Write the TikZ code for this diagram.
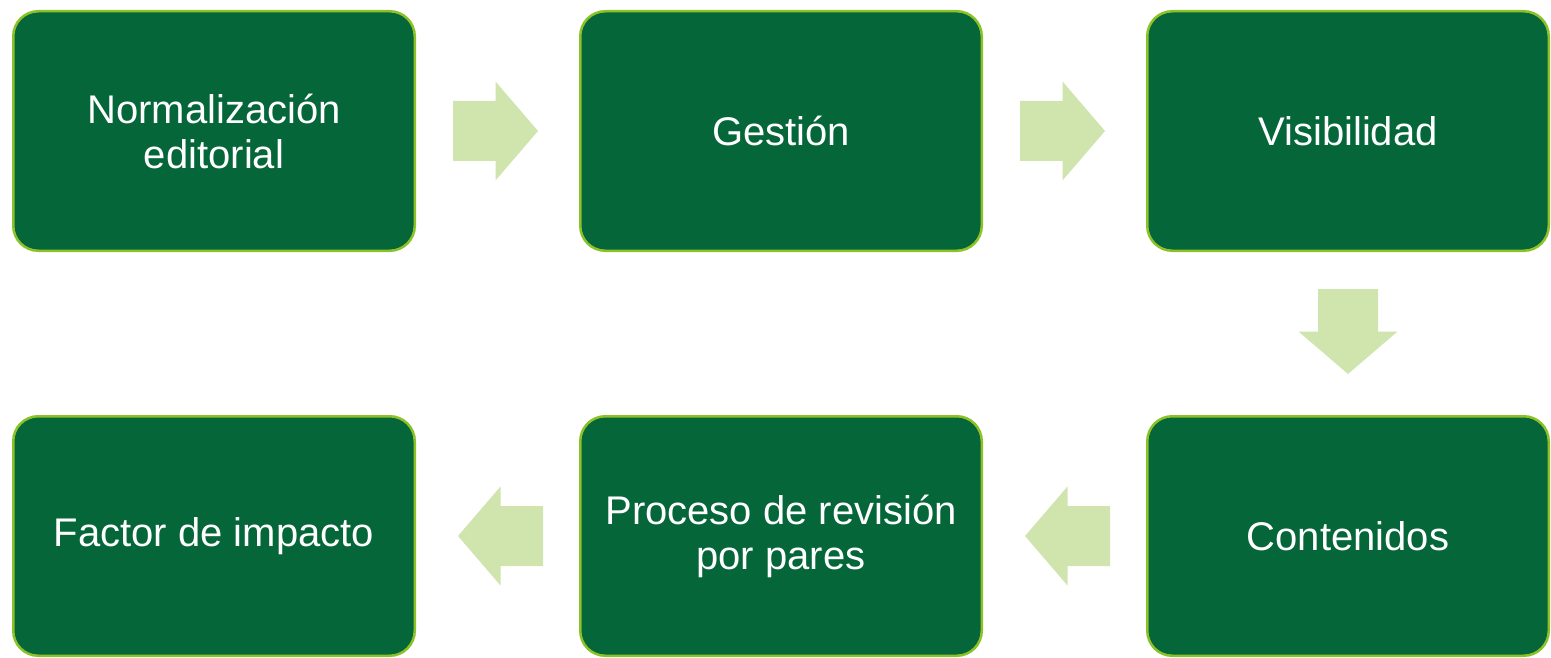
\documentclass[tikz,border=0pt]{standalone}
\usepackage{fontspec}
\setmainfont{Liberation Sans}
\usetikzlibrary{calc}

\definecolor{boxgreen}{RGB}{4,102,57}
\definecolor{boxline}{RGB}{140,194,40}
\definecolor{arrowgreen}{RGB}{208,228,174}

\tikzset{
  stage/.style={draw=boxline, line width=2.5pt, fill=boxgreen,
    rounded corners=25pt, minimum width=401.5pt, minimum height=239.5pt,
    text=white, align=center, inner sep=0pt,
    font=\fontsize{40}{45}\selectfont},
  blockarrow/.pic={
    \fill[arrowgreen] (-42.5,-30) -- (0,-30) -- (0,-49.5) -- (42.5,0) --
          (0,49.5) -- (0,30) -- (-42.5,30) -- cycle;
  }
}

\begin{document}
\begin{tikzpicture}[x=1pt,y=-1pt]
  \useasboundingbox (0,0) rectangle (1551,658);
  % top row
  \node[stage] (norm) at (214,131) {Normalización\\editorial};
  \node[stage] (gest) at (781,131) {Gestión};
  \node[stage] (visi) at (1348,131) {Visibilidad};
  % bottom row
  \node[stage] (cont) at (1348,536) {Contenidos};
  \node[stage] (proc) at (781,536) {Proceso de revisión\\por pares};
  \node[stage] (fact) at (214,536) {Factor de impacto};
  % arrows
  \pic at ($(norm.east)!0.5!(gest.west)+(-2,0)$) {blockarrow};
  \pic at ($(gest.east)!0.5!(visi.west)+(-2,0)$) {blockarrow};
  \pic[rotate=-90] at ($(visi.south)!0.5!(cont.north)+(0,-2)$) {blockarrow};
  \pic[rotate=180] at ($(cont.west)!0.5!(proc.east)+(3,0)$) {blockarrow};
  \pic[rotate=180] at ($(proc.west)!0.5!(fact.east)+(3,0)$) {blockarrow};
\end{tikzpicture}
\end{document}
